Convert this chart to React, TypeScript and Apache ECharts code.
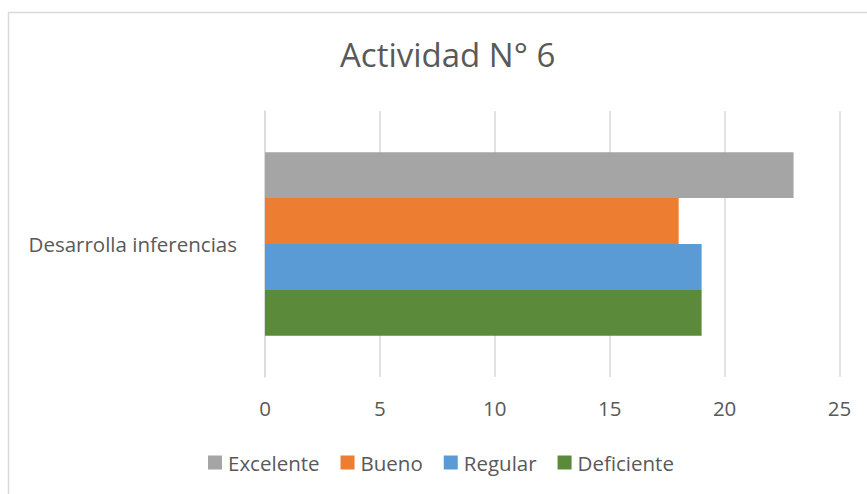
import React, { useEffect, useRef } from "react";
import * as echarts from "echarts";

const title = "Actividad N° 6";
const categories = ["Desarrolla inferencias"];
const seriesNames = ["Excelente", "Bueno", "Regular", "Deficiente"];
const seriesColors = ["#a5a5a5", "#ed7d31", "#5b9bd5", "#5b8a3a"];
const excelente = [23];
const bueno = [18];
const regular = [19];
const deficiente = [19];
const seriesValues = [excelente, bueno, regular, deficiente];

const FONT = "'Open Sans', 'Liberation Sans', sans-serif";
const TEXT = "#595959";

export default function App() {
  const ref = useRef<HTMLDivElement>(null);
  useEffect(() => {
    if (!ref.current) return;
    const chart = echarts.init(ref.current, null, { renderer: "svg" });
    chart.setOption({
      animation: false,
      backgroundColor: "#ffffff",
      title: {
        text: title,
        left: 335,
        top: 33,
        textStyle: { fontFamily: FONT, fontSize: 33, fontWeight: "normal", color: TEXT },
      },
      graphic: [
        {
          type: "rect",
          shape: { x: 8.5, y: 12.5, width: 880, height: 500 },
          style: { fill: "none", stroke: "#d9d9d9", lineWidth: 1.5 },
          silent: true,
        },
      ],
      legend: {
        data: seriesNames,
        top: 452,
        left: 208,
        padding: 0,
        itemWidth: 14,
        itemHeight: 14,
        itemGap: 21,
        icon: "rect",
        textStyle: { fontFamily: FONT, fontSize: 20.5, color: TEXT, padding: [0, 0, 0, 1] },
      },
      grid: { left: 265, right: 27.5, top: 111, bottom: 117, containLabel: false },
      xAxis: {
        type: "value",
        min: 0,
        max: 25,
        interval: 5,
        axisLine: { show: false },
        axisTick: { show: false },
        splitLine: { lineStyle: { color: "#d9d9d9", width: 1.5 } },
        axisLabel: { fontFamily: FONT, fontSize: 20.5, color: TEXT, margin: 20 },
      },
      yAxis: {
        type: "category",
        data: categories,
        inverse: true,
        axisLine: { show: true, lineStyle: { color: "#d9d9d9", width: 1.5 } },
        axisTick: { show: false },
        axisLabel: { fontFamily: FONT, fontSize: 20.5, color: TEXT, margin: 28 },
      },
      series: seriesNames.map((name, i) => ({
        name,
        type: "bar",
        data: seriesValues[i],
        barGap: "0%",
        barCategoryGap: "31%",
        itemStyle: { color: seriesColors[i] },
      })),
    });
    return () => chart.dispose();
  }, []);
  return <div ref={ref} style={{ width: 867, height: 494, position: "absolute", left: 0, top: 0 }} />;
}
